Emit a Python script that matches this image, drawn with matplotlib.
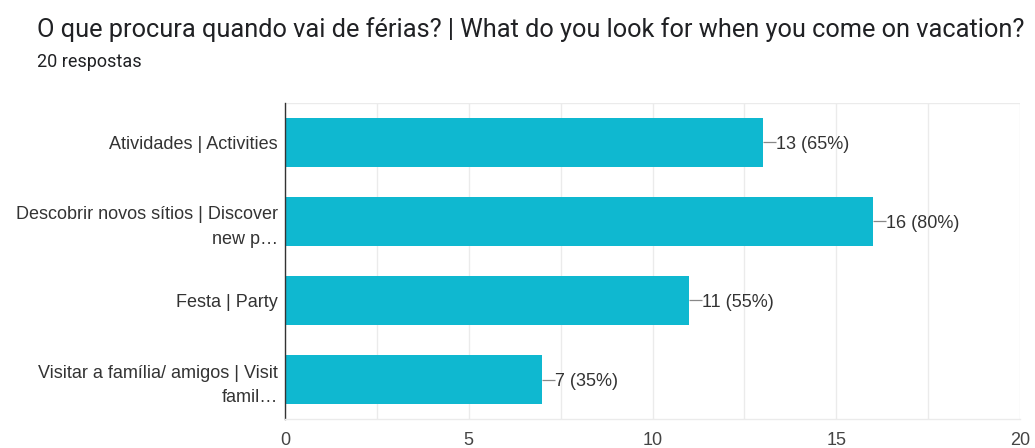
import matplotlib
matplotlib.use("Agg")
import matplotlib.pyplot as plt
from matplotlib.ticker import MultipleLocator

categories = [
    "Atividades | Activities",
    "Descobrir novos sítios | Discover\nnew p…",
    "Festa | Party",
    "Visitar a família/ amigos | Visit\nfamil…",
]
counts = [13, 16, 11, 7]
total_responses = 20
x_ticks = [0, 5, 10, 15, 20]

title = "O que procura quando vai de férias? | What do you look for when you come on vacation?"
subtitle = f"{total_responses} respostas"

bar_color = "#0FB8D0"
text_color = "#333333"
grid_color = "#EBEBEB"
arial = ["Liberation Sans", "DejaVu Sans"]

fig = plt.figure(figsize=(10.35, 4.48), dpi=100)
ax = fig.add_axes([285 / 1035, 29 / 448, (1020 - 285) / 1035, (419 - 103) / 448])

positions = list(range(len(categories)))
ax.barh(positions, counts, height=0.62, color=bar_color, zorder=2)

ax.set_xlim(0, 20)
ax.set_ylim(len(categories) - 0.5, -0.5)
ax.set_xticks(x_ticks)
ax.xaxis.set_minor_locator(MultipleLocator(2.5))
ax.grid(axis="x", which="both", color=grid_color, linewidth=1, zorder=0)
ax.set_yticks(positions)
ax.set_yticklabels(categories, fontsize=13, color=text_color,
                   family=arial, ha="right", linespacing=1.6)
ax.tick_params(axis="y", length=0, pad=5)
ax.tick_params(axis="x", which="both", length=0, pad=9, labelsize=13,
               labelcolor="#444444")
for lbl in ax.get_xticklabels():
    lbl.set_family(arial)

for side in ["top", "right"]:
    ax.spines[side].set_visible(False)
ax.spines["bottom"].set_color(grid_color)
ax.spines["bottom"].set_linewidth(1.0)
ax.spines["left"].set_color("#333333")
ax.spines["left"].set_linewidth(1.0)
ax.axhline(-0.5, color=grid_color, linewidth=1, zorder=1)

# value labels with short leader lines
for pos, val in zip(positions, counts):
    pct = round(100 * val / total_responses)
    ax.plot([val, val + 0.35], [pos, pos], color="#888888", linewidth=0.9, zorder=3,
            solid_capstyle="butt")
    ax.text(val + 0.36, pos + 0.03, f"{val} ({pct}%)", va="center", ha="left",
            fontsize=13, color=text_color, family=arial)

fig.text(37 / 1035, 1 - 37 / 448, title, fontsize=18.3, color="#202124",
         family=["Roboto", "DejaVu Sans"], va="baseline", ha="left")
fig.text(37 / 1035, 1 - 67 / 448, subtitle, fontsize=13, color="#202124",
         family=["Roboto", "DejaVu Sans"], va="baseline", ha="left")

fig.savefig("out.png", dpi=100, facecolor="white")
